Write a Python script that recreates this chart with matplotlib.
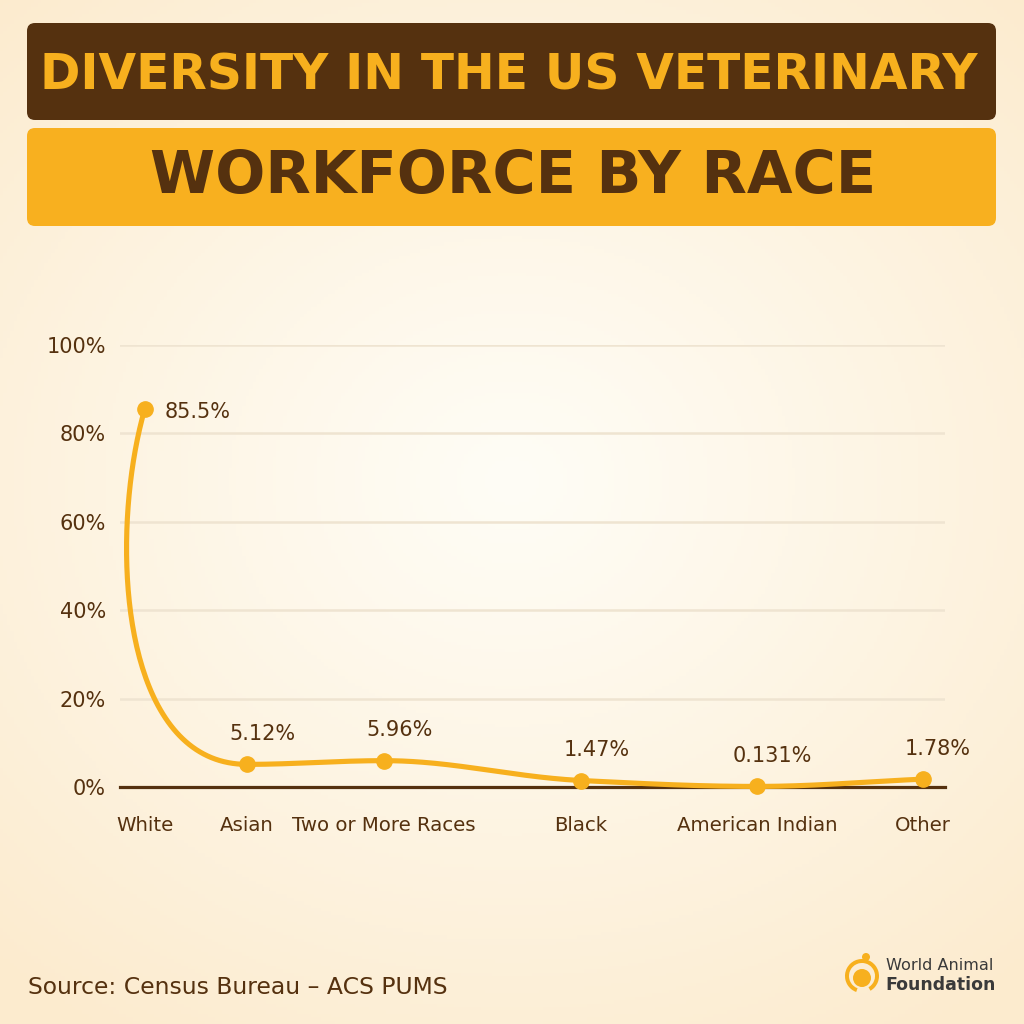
import numpy as np
import matplotlib
matplotlib.use('Agg')
import matplotlib.pyplot as plt
from matplotlib.patches import FancyBboxPatch, Circle, Wedge

# data
categories = ['White', 'Asian', 'Two or More Races', 'Black', 'American Indian', 'Other']
shares = [85.5, 5.12, 5.96, 1.47, 0.131, 1.78]
share_labels = ['85.5%', '5.12%', '5.96%', '1.47%', '0.131%', '1.78%']
cat_pos = [3.0, 15.4, 32.0, 55.9, 77.2, 97.3]   # category positions on a 0-100 axis
y_ticks = [0, 20, 40, 60, 80, 100]

BROWN = '#55310F'
YELLOW = '#F7B01E'
W = 1024

fig = plt.figure(figsize=(10.24, 10.24), dpi=100)
renderer = fig.canvas.get_renderer()

def fit_text(t, width):
    bb = t.get_window_extent(renderer)
    t.set_fontsize(t.get_fontsize() * width / bb.width)

# background with radial glow, pixel coords (y down)
bg = fig.add_axes([0, 0, 1, 1])
gx, gy = np.meshgrid(np.linspace(0, 1, 300), np.linspace(0, 1, 300))
r = np.sqrt(((gx - 0.5) / 0.75) ** 2 + ((gy - 0.47) / 0.65) ** 2)
r = np.clip(r, 0, 1) ** 1.1
center = np.array([255, 253, 246]) / 255
edge = np.array([252, 235, 206]) / 255
img = center + (edge - center) * r[..., None]
bg.imshow(img, extent=(0, W, W, 0), aspect='auto', zorder=0)
bg.set_xlim(0, W)
bg.set_ylim(W, 0)
bg.axis('off')

# title banners
bg.add_patch(FancyBboxPatch((27, 23), 969, 97, boxstyle='round,pad=0,rounding_size=8',
                            fc=BROWN, ec='none', zorder=1))
bg.add_patch(FancyBboxPatch((27, 128), 969, 98, boxstyle='round,pad=0,rounding_size=8',
                            fc='#F8B01F', ec='none', zorder=1))
t1 = bg.text(509, 75, 'DIVERSITY IN THE US VETERINARY', ha='center', va='center',
             color=YELLOW, fontsize=30, fontweight='bold', family='DejaVu Sans', zorder=2)
t2 = bg.text(513, 177, 'WORKFORCE BY RACE', ha='center', va='center',
             color=BROWN, fontsize=30, fontweight='bold', family='DejaVu Sans', zorder=2)
fit_text(t1, 938)
fit_text(t2, 727)

# source + logo
src = bg.text(28, 988, 'Source: Census Bureau \u2013 ACS PUMS', ha='left', va='center',
              color=BROWN, fontsize=15, zorder=2)
fit_text(src, 420)
bg.add_patch(Wedge((862, 976), 17, 110, 420, width=4, fc=YELLOW, ec='none', zorder=2))
bg.add_patch(Circle((862, 978), 9, fc=YELLOW, ec='none', zorder=2))
bg.add_patch(Circle((866, 957), 4, fc=YELLOW, ec='none', zorder=2))
w1 = bg.text(886, 966, 'World Animal', ha='left', va='center', color='#3A3A3A',
             fontsize=11, zorder=2)
w2 = bg.text(885, 985, 'Foundation', ha='left', va='center', color='#3A3A3A',
             fontsize=11, fontweight='bold', zorder=2)
fit_text(w1, 107)
fit_text(w2, 110)

# main chart
ax = fig.add_axes([120 / W, (W - 787) / W, 825 / W, 442 / W])
ax.patch.set_alpha(0)
ax.set_xlim(0, 100)
ax.set_ylim(0, 100)
for s in ax.spines.values():
    s.set_visible(False)
ax.set_yticks(y_ticks)
ax.set_yticklabels([f'{v}%' for v in y_ticks])
ax.yaxis.grid(True, color='#EFE4D1', lw=1.8)
ax.set_axisbelow(True)
ax.axhline(0, color=BROWN, lw=2.3, zorder=2, clip_on=False)
ax.set_xticks(cat_pos)
ax.set_xticklabels(categories)
ax.tick_params(axis='x', length=0, pad=21, labelsize=14.2, labelcolor=BROWN)
ax.tick_params(axis='y', length=0, pad=10, labelsize=15, labelcolor=BROWN)

# smooth curve through the points (bezier in display space, monotone tangents)
def smooth_path(xd, yd, tension=0.35, n=80):
    p = ax.transData.transform(np.column_stack([xd, yd]))
    k = len(p)
    h = np.diff(p[:, 0])
    d = np.diff(p[:, 1]) / h
    tang = np.zeros((k, 2))
    tang[:, 0] = 1.0
    for i in range(1, k - 1):
        if d[i - 1] * d[i] > 0:
            w1 = 2 * h[i] + h[i - 1]
            w2 = h[i] + 2 * h[i - 1]
            tang[i, 1] = (w1 + w2) / (w1 / d[i - 1] + w2 / d[i])
    # end points: steep segment -> tangent mirrored from the chord, else chord slope
    for i, j in [(0, 0), (k - 1, -1)]:
        c = p[j + 1] - p[j] if i == 0 else p[-1] - p[-2]
        if abs(d[j]) > 1:
            tang[i] = [-c[0], c[1]]
        else:
            tang[i, 1] = d[j]
    tang /= np.linalg.norm(tang, axis=1)[:, None]
    out = []
    tt = np.linspace(0, 1, n)[:, None]
    for i in range(k - 1):
        chord = np.linalg.norm(p[i + 1] - p[i])
        c1 = p[i] + tension * chord * tang[i]
        c2 = p[i + 1] - tension * chord * tang[i + 1]
        seg = ((1 - tt) ** 3) * p[i] + 3 * ((1 - tt) ** 2) * tt * c1 \
            + 3 * (1 - tt) * tt ** 2 * c2 + tt ** 3 * p[i + 1]
        out.append(seg)
    return ax.transData.inverted().transform(np.vstack(out))

curve = smooth_path(cat_pos, shares)
ax.plot(curve[:, 0], curve[:, 1], color=YELLOW, lw=3.7, clip_on=False, zorder=3,
        solid_capstyle='round')
ax.plot(cat_pos, shares, 'o', color=YELLOW, ms=11, clip_on=False, zorder=4)

for i, (x, y, lab) in enumerate(zip(cat_pos, shares, share_labels)):
    if i == 0:
        ax.annotate(lab, (x, y), xytext=(14, -2), textcoords='offset points',
                    ha='left', va='center', fontsize=15, color=BROWN, zorder=5)
    else:
        ax.annotate(lab, (x, y), xytext=(11, 22), textcoords='offset points',
                    ha='center', va='center', fontsize=15, color=BROWN, zorder=5)

fig.savefig('out.png', dpi=100)
